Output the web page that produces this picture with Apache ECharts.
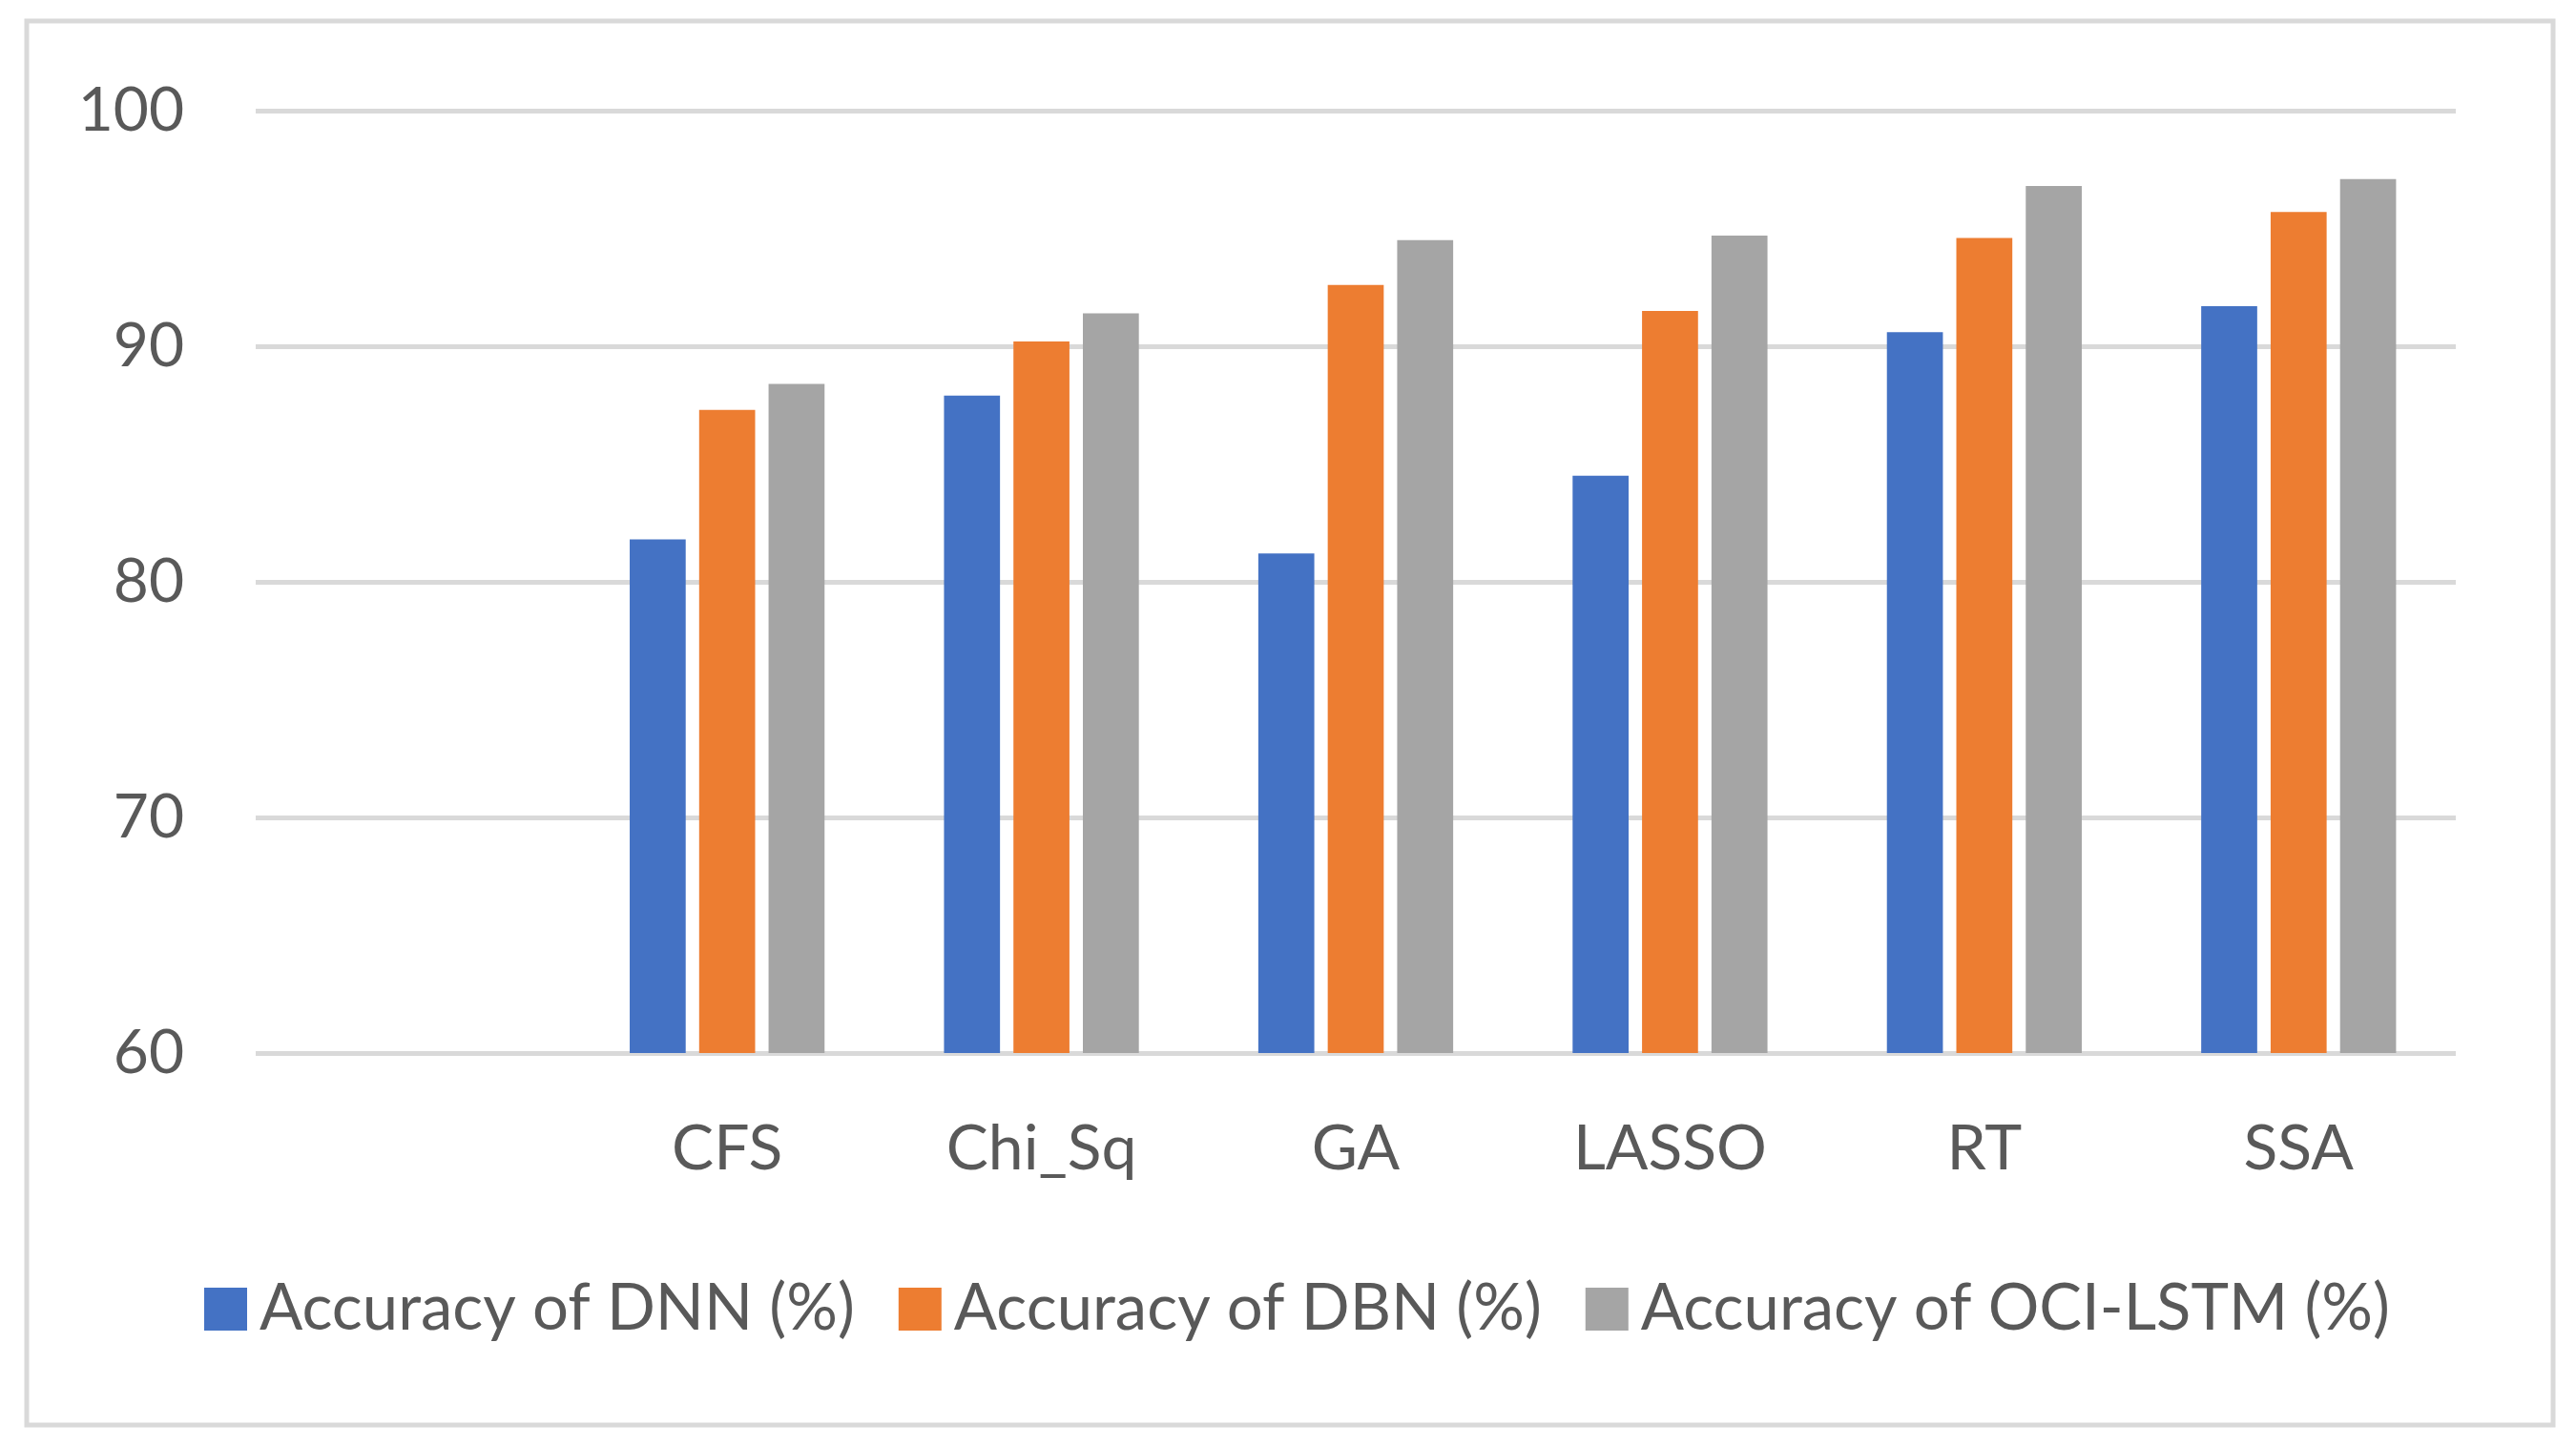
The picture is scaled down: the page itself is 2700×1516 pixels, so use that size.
<!DOCTYPE html>
<html>
<head>
<meta charset="utf-8">
<script src="https://cdn.jsdelivr.net/npm/echarts@6/dist/echarts.min.js"></script>
<style>
html,body{margin:0;padding:0;background:#fff;}
#chart{width:2700px;height:1516px;}
</style>
</head>
<body>
<div id="chart"></div>
<script>
const categories = ['', 'CFS', 'Chi_Sq', 'GA', 'LASSO', 'RT', 'SSA'];
const dnnValues = [null, 81.8, 87.9, 81.2, 84.5, 90.6, 91.7];
const dbnValues = [null, 87.3, 90.2, 92.6, 91.5, 94.6, 95.7];
const ociValues = [null, 88.4, 91.4, 94.5, 94.7, 96.8, 97.1];
const seriesNames = ['Accuracy of DNN (%)', 'Accuracy of DBN (%)', 'Accuracy of OCI-LSTM (%)'];
const yTicks = [60, 70, 80, 90, 100];

const FONT = 'Lato, "Noto Sans", sans-serif';
const TEXT = '#595959';
const colors = ['#4472C4', '#ED7D31', '#A5A5A5'];

const chart = echarts.init(document.getElementById('chart'));
const mk = (name, data, color) => ({
  name, type: 'bar', data,
  itemStyle: { color },
  barGap: '24%', barCategoryGap: '38%',
  emphasis: { disabled: true }
});
chart.setOption({
  animation: false,
  backgroundColor: '#fff',
  textStyle: { fontFamily: FONT },
  graphic: [{
    type: 'rect',
    shape: { x: 28, y: 22, width: 2648, height: 1472 },
    style: { fill: 'none', stroke: '#d9d9d9', lineWidth: 5 },
    silent: true
  }],
  grid: { left: 268, right: 126, top: 116, bottom: 412, containLabel: false },
  legend: {
    left: 209, top: 1334,
    itemWidth: 45, itemHeight: 45, itemGap: 46,
    icon: 'rect',
    textStyle: { fontFamily: FONT, fontSize: 67, color: TEXT, padding: [0, 0, 0, 8] },
    data: seriesNames
  },
  xAxis: {
    type: 'category',
    data: categories,
    axisLine: { show: false },
    axisTick: { show: false },
    axisLabel: { fontFamily: FONT, fontSize: 66, color: TEXT, margin: 68 }
  },
  yAxis: {
    type: 'value',
    min: yTicks[0], max: yTicks[yTicks.length - 1], interval: 10,
    axisLine: { show: false },
    axisTick: { show: false },
    axisLabel: { fontFamily: FONT, fontSize: 64, color: TEXT, margin: 75 },
    splitLine: { lineStyle: { color: '#d9d9d9', width: 5 } }
  },
  series: [
    mk(seriesNames[0], dnnValues, colors[0]),
    mk(seriesNames[1], dbnValues, colors[1]),
    mk(seriesNames[2], ociValues, colors[2])
  ]
});
</script>
</body>
</html>
